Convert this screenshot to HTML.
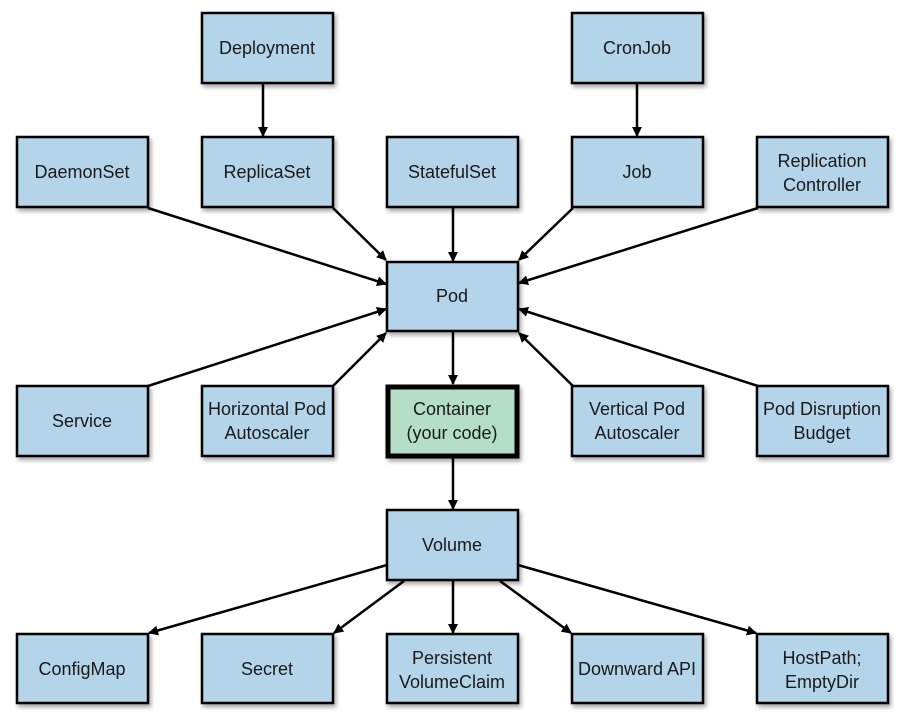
<!DOCTYPE html>
<html><head><meta charset="utf-8"><style>
html,body{margin:0;padding:0;background:#fff;}
svg{display:block}
text{font-family:"Liberation Sans Narrow","Liberation Sans",sans-serif;font-size:18px;fill:#1a1a1a;text-anchor:middle}
</style></head><body>
<svg width="908" height="713" viewBox="0 0 908 713" xmlns="http://www.w3.org/2000/svg">
<defs>
<marker id="a" markerWidth="10" markerHeight="10" refX="9" refY="5" orient="auto" markerUnits="userSpaceOnUse" viewBox="0 0 10 10">
<path d="M0,0 L10,5 L0,10 z" fill="#000"/></marker>
<filter id="s" x="-10%" y="-10%" width="130%" height="130%"><feDropShadow dx="2" dy="3" stdDeviation="2" flood-color="#000" flood-opacity="0.35"/></filter>
</defs>
<g stroke="#000" stroke-width="2.5" fill="none" marker-end="url(#a)">
<line x1="263" y1="84" x2="263" y2="136"/>
<line x1="637" y1="84" x2="637" y2="136"/>
<line x1="453" y1="208" x2="453" y2="261"/>
<line x1="148" y1="208" x2="386" y2="284"/>
<line x1="333" y1="208" x2="386" y2="260"/>
<line x1="573" y1="208" x2="519" y2="260"/>
<line x1="758" y1="208" x2="519" y2="283"/>
<line x1="148" y1="386" x2="386" y2="309"/>
<line x1="333" y1="386" x2="386" y2="333"/>
<line x1="573" y1="386" x2="519" y2="333"/>
<line x1="758" y1="386" x2="519" y2="309"/>
<line x1="453" y1="332" x2="453" y2="384"/>
<line x1="453" y1="458" x2="453" y2="509"/>
<line x1="387" y1="565" x2="149" y2="633"/>
<line x1="404" y1="581" x2="334" y2="633"/>
<line x1="453" y1="581" x2="453" y2="633"/>
<line x1="500" y1="581" x2="571" y2="633"/>
<line x1="518" y1="565" x2="756" y2="633"/>
</g>
<g fill="#b3d4e9" stroke="#000" stroke-width="2.5" filter="url(#s)">
<rect x="202" y="13" width="131" height="70"/>
<rect x="572" y="13" width="131" height="70"/>
<rect x="17" y="137" width="131" height="70"/>
<rect x="202" y="137" width="131" height="70"/>
<rect x="387" y="137" width="131" height="70"/>
<rect x="572" y="137" width="131" height="70"/>
<rect x="757" y="137" width="131" height="70"/>
<rect x="387" y="262" width="131" height="69"/>
<rect x="17" y="386" width="131" height="70"/>
<rect x="202" y="386" width="131" height="70"/>
<rect x="572" y="386" width="131" height="70"/>
<rect x="757" y="386" width="131" height="70"/>
<rect x="387" y="510" width="131" height="70"/>
<rect x="17" y="634" width="131" height="69"/>
<rect x="202" y="634" width="131" height="69"/>
<rect x="387" y="634" width="131" height="69"/>
<rect x="572" y="634" width="131" height="69"/>
<rect x="757" y="634" width="131" height="69"/>
</g>
<rect x="388" y="387" width="129" height="69" fill="#b4dfc6" stroke="#000" stroke-width="5" filter="url(#s)"/>
<text x="267" y="54">Deployment</text>
<text x="637" y="54">CronJob</text>
<text x="82" y="178">DaemonSet</text>
<text x="267" y="178">ReplicaSet</text>
<text x="452" y="178">StatefulSet</text>
<text x="637" y="178">Job</text>
<text x="822" y="167">Replication</text>
<text x="822" y="191">Controller</text>
<text x="452" y="302">Pod</text>
<text x="82" y="427">Service</text>
<text x="267" y="415">Horizontal Pod</text>
<text x="267" y="439">Autoscaler</text>
<text x="452" y="415">Container</text>
<text x="452" y="439">(your code)</text>
<text x="637" y="415">Vertical Pod</text>
<text x="637" y="439">Autoscaler</text>
<text x="822" y="415">Pod Disruption</text>
<text x="822" y="439">Budget</text>
<text x="452" y="551">Volume</text>
<text x="82" y="675">ConfigMap</text>
<text x="267" y="675">Secret</text>
<text x="452" y="664">Persistent</text>
<text x="452" y="688">VolumeClaim</text>
<text x="637" y="675">Downward API</text>
<text x="822" y="664">HostPath;</text>
<text x="822" y="688">EmptyDir</text>
</svg>
</body></html>
